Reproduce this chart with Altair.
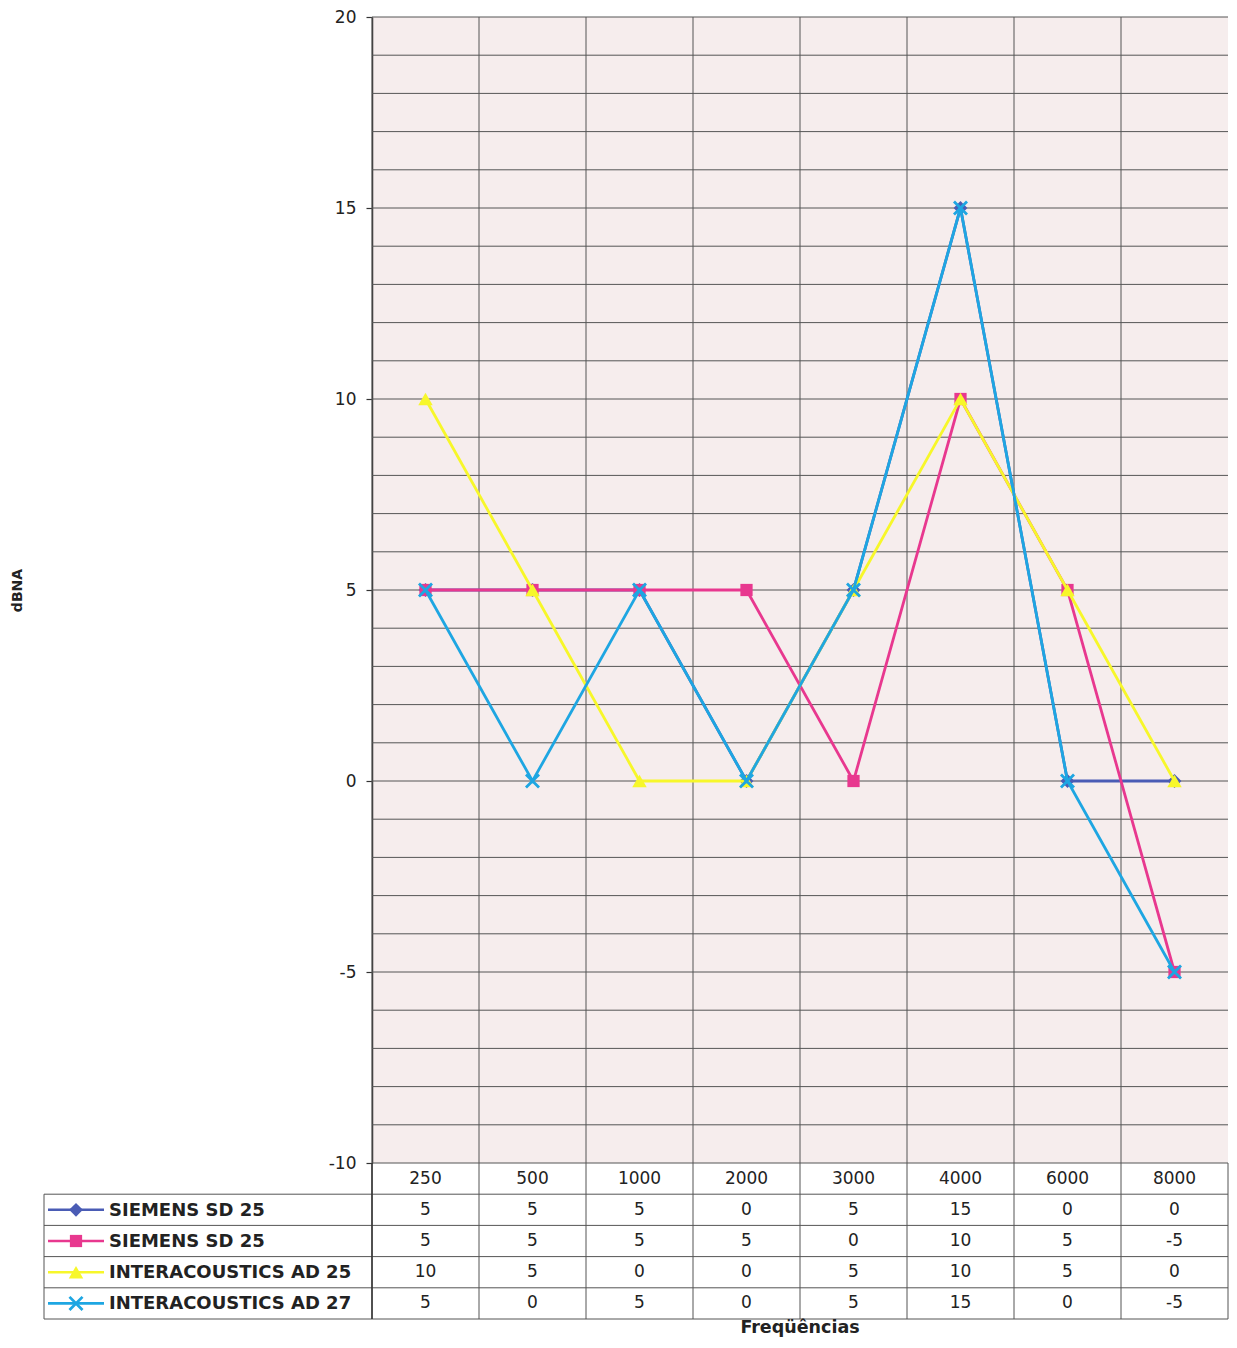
import altair as alt
import pandas as pd

# ---------------- data ----------------
freqs = ["250", "500", "1000", "2000", "3000", "4000", "6000", "8000"]
series_ids = ["s1", "s2", "s3", "s4"]
series_labels = ["SIEMENS SD 25", "SIEMENS SD 25", "INTERACOUSTICS AD 25", "INTERACOUSTICS AD 27"]
siemens_a = [5, 5, 5, 0, 5, 15, 0, 0]
siemens_b = [5, 5, 5, 5, 0, 10, 5, -5]
inter_ad25 = [10, 5, 0, 0, 5, 10, 5, 0]
inter_ad27 = [5, 0, 5, 0, 5, 15, 0, -5]
series_values = [siemens_a, siemens_b, inter_ad25, inter_ad27]
y_ticks = [-10, -5, 0, 5, 10, 15, 20]
grid_vals = list(range(-10, 21))
x_title = "Freqüências"
y_title = "dBNA"

# ---------------- styles ----------------
colors = ["#4a5cb5", "#e8388f", "#f7f72a", "#1ea6e2"]
shapes = ["diamond", "square", "triangle-up", "M -1 -1 L 1 1 M -1 1 L 1 -1"]
sizes = [190, 150, 210, 170]
FONT = "DejaVu Sans"
W, H = 856, 1146
TABLE_RANGE = [H, H + 156]
GRID = "#555555"

rows = []
for i, (sid, lab, vals) in enumerate(zip(series_ids, series_labels, series_values)):
    for f, v in zip(freqs, vals):
        rows.append({"sid": sid, "label": lab, "freq": f, "value": v, "row": i + 1.5, "txt": str(v)})
df = pd.DataFrame(rows)
hdr = pd.DataFrame({"freq": freqs, "row": [0.5] * len(freqs)})
leg = pd.DataFrame({"sid": series_ids, "label": series_labels,
                    "row": [i + 1.5 for i in range(len(series_ids))]})
gridf = pd.DataFrame({"v": grid_vals})
rowlines = pd.DataFrame({"r": [1, 2, 3, 4, 5]})
freqdf = pd.DataFrame({"freq": freqs})
one = pd.DataFrame({"r": [1], "t": [x_title]})

xs = alt.Scale(type="band", domain=freqs, paddingInner=0, paddingOuter=0)
ys = alt.Scale(domain=[-10, 20], nice=False, zero=False)
ts = alt.Scale(domain=[0, 5], range=TABLE_RANGE, nice=False, zero=False)


def xcat(bp=0.5):
    return alt.X("freq:N", scale=xs, bandPosition=bp, axis=None)


def ytab(field):
    return alt.Y(field, scale=ts, axis=None)


# horizontal grid lines + y axis
hgrid = alt.Chart(gridf).mark_rule(color=GRID, strokeWidth=1).encode(
    y=alt.Y("v:Q", scale=ys, axis=alt.Axis(
        values=y_ticks, grid=False, tickSize=6, tickColor="#333", tickWidth=1.2,
        domainColor="#333", domainWidth=1.5, labelPadding=10, labelFont=FONT,
        labelFontSize=17, labelColor="#222", labelExpr="datum.value",
        title=y_title, titleFont=FONT, titleFontSize=14, titleFontWeight="bold",
        titleColor="#222", titleX=-355, titleY=573, titleAlign="center",
        titleBaseline="middle")),
    x=alt.value(0), x2=alt.value(W))

# vertical grid lines (category boundaries), extended through the table
vgrid = alt.Chart(freqdf).mark_rule(color=GRID, strokeWidth=1).encode(
    x=xcat(0), y=alt.value(0), y2=alt.value(TABLE_RANGE[1]))

right_edge = alt.Chart(one).mark_rule(color=GRID, strokeWidth=1).encode(
    x=alt.value(W), y=alt.value(H), y2=alt.value(TABLE_RANGE[1]))
left_edge = alt.Chart(one).mark_rule(color=GRID, strokeWidth=1).encode(
    x=alt.value(-328), y=ytab("r:Q"), y2=alt.value(TABLE_RANGE[1]))
axis_ext = alt.Chart(one).mark_rule(color="#333", strokeWidth=1.5).encode(
    x=alt.value(0), y=alt.value(H), y2=alt.value(TABLE_RANGE[1]))
table_h = alt.Chart(rowlines).mark_rule(color=GRID, strokeWidth=1).encode(
    y=ytab("r:Q"), x=alt.value(-328), x2=alt.value(W))

layers = [hgrid, vgrid]

# series, drawn one after the other (line then markers)
for sid, col, shp, sz in zip(series_ids, colors, shapes, sizes):
    base = alt.Chart(df).transform_filter(alt.datum.sid == sid)
    line = base.mark_line(color=col, strokeWidth=2.8).encode(
        x=xcat(), y=alt.Y("value:Q", scale=ys, axis=None))
    if shp.startswith("M"):
        pt = base.mark_point(shape=shp, size=sz, color=col, filled=False, strokeWidth=2.8, opacity=1)
    else:
        pt = base.mark_point(shape=shp, size=sz, color=col, filled=True, opacity=1)
    pt = pt.encode(x=xcat(), y=alt.Y("value:Q", scale=ys, axis=None))
    layers += [line, pt]

# data table
header_txt = alt.Chart(hdr).mark_text(font=FONT, fontSize=17, color="#222").encode(
    x=xcat(), y=ytab("row:Q"), text="freq:N")
cell_txt = alt.Chart(df).mark_text(font=FONT, fontSize=17, color="#222").encode(
    x=xcat(), y=ytab("row:Q"), text="txt:N")

# legend column inside the table
leg_layers = []
for sid, col, shp, sz in zip(series_ids, colors, shapes, sizes):
    b = alt.Chart(leg).transform_filter(alt.datum.sid == sid)
    leg_layers.append(b.mark_rule(color=col, strokeWidth=2.6).encode(
        x=alt.value(-324), x2=alt.value(-268), y=ytab("row:Q")))
    if shp.startswith("M"):
        m = b.mark_point(shape=shp, size=sz, color=col, filled=False, strokeWidth=2.8, opacity=1)
    else:
        m = b.mark_point(shape=shp, size=sz, color=col, filled=True, opacity=1)
    leg_layers.append(m.encode(x=alt.value(-296), y=ytab("row:Q")))
leg_txt = alt.Chart(leg).mark_text(font=FONT, fontSize=18, color="#222", align="left",
                                   fontWeight="bold", dy=1).encode(
    x=alt.value(-263), y=ytab("row:Q"), text="label:N")

# x-axis title below the table
xtitle = alt.Chart(one).mark_text(font=FONT, fontSize=17.5, fontWeight="bold",
                                  color="#222", baseline="middle").encode(
    x=alt.value(W / 2), y=alt.value(H + 165), text="t:N")

layers += [table_h, right_edge, left_edge, axis_ext, header_txt, cell_txt] + leg_layers + [leg_txt, xtitle]

chart = alt.layer(*layers).resolve_scale(y="independent").properties(
    width=W, height=H, background="white",
    autosize=alt.AutoSizeParams(type="none"),
    padding={"left": 364, "top": 9, "right": 1, "bottom": 177},
).configure_view(fill="#f6eded", stroke=None)

chart.save("out.html", embed_options={"renderer": "svg", "actions": False})
